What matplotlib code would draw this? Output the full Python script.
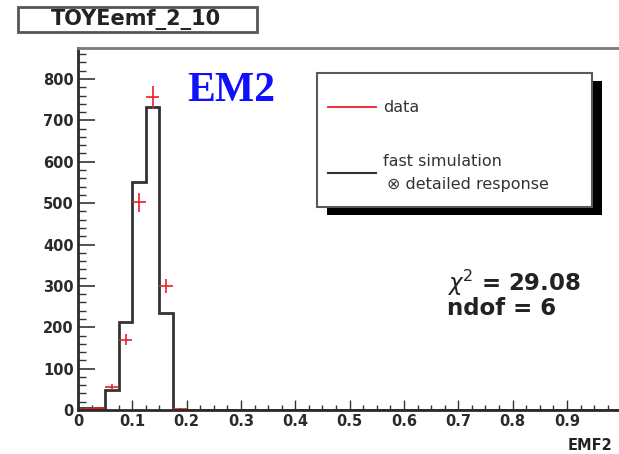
import numpy as np
import matplotlib
matplotlib.use("Agg")
import matplotlib.pyplot as plt
from matplotlib.patches import Rectangle
from matplotlib.lines import Line2D
from matplotlib.ticker import MultipleLocator

# EMF2 histogram: 0.025-wide bins over [0, 0.2]; all later bins are empty
bin_width = 0.025
sim_counts = [4, 4, 49, 212, 550, 732, 235, 0]        # fast simulation (x) detailed response
data_counts = [2, 4, 55, 170, 502, 756, 300, 3]       # data
chi2_value = 29.08
ndof_value = 6
title_text = "TOYEemf_2_10"
label_text = "EM2"
x_label = "EMF2"

W, H = 619, 454
fig = plt.figure(figsize=(W / 100, H / 100), dpi=100)
fig.patch.set_facecolor("white")


def fx(px):
    return px / W


def fy(py):
    return 1 - py / H


ax = fig.add_axes([fx(78), fy(410), 543.3 / W, (410 - 48) / H])

n = len(sim_counts)
edges = np.arange(n + 1) * bin_width
centers = edges[:-1] + bin_width / 2
sim = np.array(sim_counts, dtype=float)
dat = np.array(data_counts, dtype=float)

# simulation outline, closed down to zero and running along the axis afterwards
ax.stairs(sim, edges, color="#333333", lw=2.0, baseline=0)
ax.plot([edges[-1], 1.0], [0, 0], color="#333333", lw=2.0)

# data points with Poisson errors and half-bin widths
ax.errorbar(centers, dat, yerr=np.sqrt(dat), xerr=bin_width / 2, fmt="none",
            ecolor="#e8202a", elinewidth=1.2, capsize=0)

ax.set_xlim(0, 1.0)
ax.set_ylim(0, 875)

ax.xaxis.set_major_locator(MultipleLocator(0.1))
ax.xaxis.set_minor_locator(MultipleLocator(0.025))
ax.yaxis.set_major_locator(MultipleLocator(100))
ax.yaxis.set_minor_locator(MultipleLocator(20))
ax.set_xticks(np.round(np.arange(0, 1.0, 0.1), 1))
ax.set_xticklabels(["0"] + [f"{v:.1f}" for v in np.arange(0.1, 0.95, 0.1)])

for lab in ax.get_xticklabels() + ax.get_yticklabels():
    lab.set_fontfamily("DejaVu Sans")
    lab.set_fontweight("bold")
    lab.set_fontsize(10.5)
    lab.set_color("#2a2a2a")

ax.tick_params(axis="x", which="major", direction="in", length=7.5, width=1.0,
               color="#333333", pad=3, top=False)
ax.tick_params(axis="x", which="minor", direction="in", length=3.6, width=1.0,
               color="#333333", top=False)
ax.tick_params(axis="y", which="major", direction="in", length=12, width=1.2,
               color="#333333", pad=3, right=False)
ax.tick_params(axis="y", which="minor", direction="in", length=5.8, width=1.0,
               color="#333333", right=False)

for side in ("left", "bottom"):
    ax.spines[side].set_color("#2a2a2a")
    ax.spines[side].set_linewidth(2.0)
ax.spines["top"].set_color("#7a7a7a")
ax.spines["top"].set_linewidth(2.0)
ax.spines["right"].set_visible(False)

# blue label inside the frame
fig.text(fx(187), fy(101), label_text, color="#1010ff", fontsize=30,
         fontfamily="Liberation Serif", fontweight="bold", ha="left", va="baseline")

# chi2 summary
stat_font = dict(fontfamily="DejaVu Sans", fontweight="bold", fontsize=16.5, color="#222222")
fig.text(fx(447), fy(291), r"$\chi^{2}$" + f" = {chi2_value:.2f}", ha="left", va="baseline",
         **stat_font)
fig.text(fx(447), fy(315), f"ndof = {ndof_value}", ha="left", va="baseline", **stat_font)

# legend box with a solid shadow
lx0, ly0, lx1, ly1 = 317, 73, 592, 207
shadow_dx, shadow_dy = 10, 8
fig.add_artist(Rectangle((fx(lx0 + shadow_dx), fy(ly1 + shadow_dy)),
                         (lx1 - lx0) / W, (ly1 - ly0) / H, transform=fig.transFigure,
                         facecolor="black", edgecolor="none", zorder=5))
fig.add_artist(Rectangle((fx(lx0), fy(ly1)), (lx1 - lx0) / W, (ly1 - ly0) / H,
                         transform=fig.transFigure, facecolor="white",
                         edgecolor="#5a5a5a", lw=1.5, zorder=6))
fig.add_artist(Line2D([fx(328), fx(376)], [fy(107), fy(107)], transform=fig.transFigure,
                      color="#e8202a", lw=1.3, zorder=7))
fig.add_artist(Line2D([fx(328), fx(376)], [fy(173), fy(173)], transform=fig.transFigure,
                      color="#333333", lw=1.5, zorder=7))
leg_font = dict(fontfamily="DejaVu Sans", fontsize=11.5, color="#333333", zorder=8)
fig.text(fx(383), fy(107), "data", ha="left", va="center", **leg_font)
fig.text(fx(383), fy(161), "fast simulation", ha="left", va="center", **leg_font)
fig.text(fx(387), fy(184), "\u2297 detailed response", ha="left", va="center", **leg_font)

# histogram name box
fig.add_artist(Rectangle((fx(18), fy(32)), (257 - 18) / W, (32 - 7) / H,
                         transform=fig.transFigure, facecolor="white",
                         edgecolor="#555555", lw=2.0))
fig.text(fx(136), fy(20), title_text, ha="center", va="center",
         fontfamily="DejaVu Sans", fontweight="bold", fontsize=15, color="#222222")

# axis title, bottom right
fig.text(fx(568), fy(450), x_label, ha="left", va="baseline",
         fontfamily="DejaVu Sans", fontweight="bold", fontsize=10.5, color="#222222")

fig.savefig("out.png", dpi=100)
